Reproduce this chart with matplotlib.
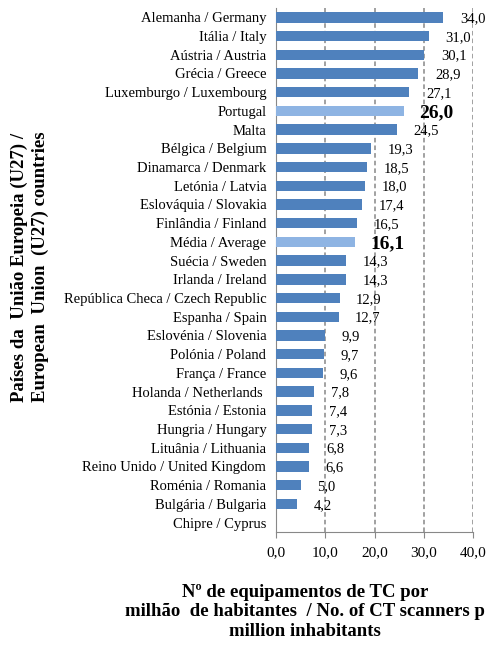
import matplotlib
matplotlib.use("Agg")
import matplotlib.pyplot as plt

countries = ["Alemanha / Germany", "Itália / Italy", "Aústria / Austria", "Grécia / Greece",
             "Luxemburgo / Luxembourg", "Portugal", "Malta", "Bélgica / Belgium",
             "Dinamarca / Denmark", "Letónia / Latvia", "Eslováquia / Slovakia",
             "Finlândia / Finland", "Média / Average", "Suécia / Sweden", "Irlanda / Ireland",
             "República Checa / Czech Republic", "Espanha / Spain", "Eslovénia / Slovenia",
             "Polónia / Poland", "França / France", "Holanda / Netherlands ", "Estónia / Estonia",
             "Hungria / Hungary", "Lituânia / Lithuania", "Reino Unido / United Kingdom",
             "Roménia / Romania", "Bulgária / Bulgaria", "Chipre / Cyprus"]
values = [34.0, 31.0, 30.1, 28.9, 27.1, 26.0, 24.5, 19.3, 18.5, 18.0, 17.4, 16.5, 16.1,
          14.3, 14.3, 12.9, 12.7, 9.9, 9.7, 9.6, 7.8, 7.4, 7.3, 6.8, 6.6, 5.0, 4.2, None]
highlight = ["Portugal", "Média / Average"]
xticks = [0, 10, 20, 30, 40]

plt.rcParams['font.family'] = ['Liberation Serif', 'DejaVu Serif']

fig = plt.figure(figsize=(4.88, 6.49), dpi=100)
ax = fig.add_axes([276/488, 1-532/649, 197/488, 524/649])

ypos = list(range(len(countries)))
colors = ["#8EB4E3" if c in highlight else "#4F81BD" for c in countries]
vals = [v if v is not None else 0 for v in values]
ax.barh(ypos, vals, height=0.55, color=colors, zorder=3)

for y, v, c in zip(ypos, values, countries):
    if v is None:
        continue
    txt = f"{v:.1f}".replace(".", ",")
    if c in highlight:
        ax.annotate(txt, (v, y), xytext=(11, -1), textcoords="offset points",
                    va="center", ha="left", fontsize=14, fontweight="bold")
    else:
        ax.annotate(txt, (v, y), xytext=(12, -1), textcoords="offset points",
                    va="center", ha="left", fontsize=10.5)

ax.set_ylim(len(countries) - 0.5, -0.5)
ax.set_xlim(0, 40)
ax.set_yticks(ypos)
ax.set_yticklabels(countries, fontsize=10.5)
ax.set_xticks(xticks)
ax.set_xticklabels([f"{t:.1f}".replace(".", ",") for t in xticks], fontsize=11)
ax.tick_params(axis="y", length=0, pad=7)
ax.tick_params(axis="x", direction="out", length=4, color="#888888", pad=6)

for t in xticks[1:]:
    ax.axvline(t, color="#888888", linestyle=(0, (3, 2)), linewidth=1.1, zorder=1)

for s in ["top", "right"]:
    ax.spines[s].set_visible(False)
ax.spines["left"].set_color("#888888")
ax.spines["bottom"].set_color("#888888")

fig.text(30/488, 1-267/649, "Países da  União Europeia (U27) /\nEuropean  Union  (U27) countries",
         rotation=90, ha="center", va="center", fontsize=13.5, fontweight="bold",
         linespacing=1.25)
fig.text(305/488, 1-612/649,
         "Nº de equipamentos de TC por\nmilhão  de habitantes  / No. of CT scanners p\nmillion inhabitants",
         ha="center", va="center", fontsize=13.5, fontweight="bold", linespacing=1.2)

fig.savefig("out.png", dpi=100)
